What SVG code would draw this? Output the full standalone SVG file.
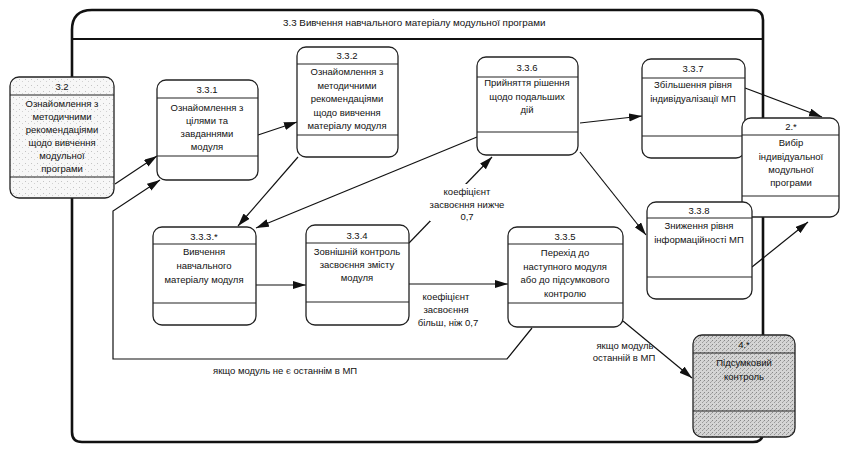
<svg xmlns="http://www.w3.org/2000/svg" width="843" height="449" viewBox="0 0 843 449">
  <style>
    text { font-family: "Liberation Sans", Arial, sans-serif; font-size: 9.5px; fill: #111; text-anchor: middle; }
    .title { font-size: 9.8px; text-anchor: start; }
    .frame { fill: none; stroke: #111; stroke-width: 2.6; }
    .box { fill: #fff; stroke: #222; stroke-width: 1.3; }
    .sep { stroke: #222; stroke-width: 1.1; }
    .conn { fill: none; stroke: #111; stroke-width: 1.2; }
    .arrow { marker-end: url(#head); }
    .lt { text-anchor: start; }
  </style>
  <defs>
    <marker id="head" markerUnits="userSpaceOnUse" markerWidth="14" markerHeight="10" refX="13" refY="4" orient="auto">
      <path d="M0,0 L13,4 L0,8 Z" fill="#111"/>
    </marker>
    <pattern id="grainLight" width="6" height="6" patternUnits="userSpaceOnUse">
      <rect width="6" height="6" fill="#f7f7f7"/>
      <rect x="1" y="1" width="1" height="1" fill="#c4c4c4"/>
      <rect x="4" y="3" width="1" height="1" fill="#d2d2d2"/>
    </pattern>
    <pattern id="grainDark" width="4" height="4" patternUnits="userSpaceOnUse">
      <rect width="4" height="4" fill="#d4d4d4"/>
      <rect x="0" y="0" width="1" height="1" fill="#888"/>
      <rect x="2" y="2" width="1" height="1" fill="#999"/>
      <rect x="3" y="1" width="1" height="1" fill="#aaa"/>
    </pattern>
  </defs>

  <rect width="843" height="449" fill="#fff"/>

  <!-- enclosing process 3.3 -->
  <g id="frame-3-3">
    <path class="frame" d="M72,30 Q72,10 92,10 L753,10 Q763,10 763,20 L763,432 Q763,442 753,442 L82,442 Q72,442 72,432 Z"/>
    <line x1="72" y1="39" x2="763" y2="39" stroke="#111" stroke-width="1.8"/>
    <text class="title" x="283" y="26">3.3 Вивчення навчального матеріалу модульної програми</text>
  </g>

  <!-- connectors -->
  <g id="connectors">
    <line class="conn arrow" x1="115" y1="184" x2="157" y2="156"/>
    <path class="conn arrow" d="M532,328 L507,359 L113,359 L113,211 L160,180"/>
    <line class="conn arrow" x1="258" y1="135" x2="297" y2="122"/>
    <line class="conn arrow" x1="298" y1="157" x2="238" y2="226"/>
    <line class="conn arrow" x1="477" y1="137" x2="256" y2="228"/>
    <line class="conn arrow" x1="256" y1="285" x2="306" y2="285"/>
    <line class="conn arrow" x1="409" y1="243" x2="492" y2="157"/>
    <line class="conn arrow" x1="409" y1="284" x2="508" y2="284"/>
    <line class="conn arrow" x1="580" y1="123" x2="642" y2="116"/>
    <line class="conn arrow" x1="580" y1="152" x2="646" y2="235"/>
    <line class="conn arrow" x1="745" y1="88" x2="822" y2="117"/>
    <line class="conn arrow" x1="752" y1="267" x2="808" y2="222"/>
    <line class="conn arrow" x1="623" y1="321" x2="692" y2="378"/>

    <!-- flow labels -->
    <rect x="430" y="184" width="74" height="37" fill="#fff"/>
    <text x="467" y="195">коефіцієнт</text>
    <text x="467" y="208">засвоєння нижче</text>
    <text x="467" y="220">0,7</text>

    <text x="446" y="300">коефіцієнт</text>
    <text x="446" y="313">засвоєння</text>
    <text x="448" y="326">більш, ніж 0,7</text>

    <text class="lt" x="213" y="374">якщо модуль не є останнім в МП</text>

    <text x="625" y="349">якщо модуль</text>
    <text x="624" y="361">останній в МП</text>
  </g>

  <!-- 3.2 -->
  <g id="node-3-2">
    <rect x="10" y="77" width="104" height="121" rx="9" fill="url(#grainLight)" stroke="#222" stroke-width="1.3"/>
    <line class="sep" x1="10" y1="95" x2="114" y2="95"/>
    <line class="sep" x1="10" y1="177" x2="114" y2="177"/>
    <text x="62" y="90">3.2</text>
    <text x="62" y="107">Ознайомлення з</text>
    <text x="62" y="120">методичними</text>
    <text x="62" y="133">рекомендаціями</text>
    <text x="62" y="146">щодо вивчення</text>
    <text x="62" y="159">модульної</text>
    <text x="62" y="172">програми</text>
  </g>

  <!-- 3.3.1 -->
  <g id="node-3-3-1">
    <rect class="box" x="157" y="80" width="101" height="100" rx="9"/>
    <line class="sep" x1="157" y1="98" x2="258" y2="98"/>
    <line class="sep" x1="157" y1="156" x2="258" y2="156"/>
    <text x="207" y="93">3.3.1</text>
    <text x="207" y="111">Ознайомлення з</text>
    <text x="207" y="124">цілями та</text>
    <text x="207" y="137">завданнями</text>
    <text x="207" y="150">модуля</text>
  </g>

  <!-- 3.3.2 -->
  <g id="node-3-3-2">
    <rect class="box" x="297" y="47" width="101" height="110" rx="9"/>
    <line class="sep" x1="297" y1="64" x2="398" y2="64"/>
    <line class="sep" x1="297" y1="135" x2="398" y2="135"/>
    <text x="347" y="59">3.3.2</text>
    <text x="347" y="75">Ознайомлення з</text>
    <text x="347" y="89">методичними</text>
    <text x="347" y="102">рекомендаціями</text>
    <text x="347" y="116">щодо вивчення</text>
    <text x="347" y="129">матеріалу модуля</text>
  </g>

  <!-- 3.3.6 -->
  <g id="node-3-3-6">
    <rect class="box" x="477" y="57" width="101" height="98" rx="9"/>
    <line class="sep" x1="477" y1="77" x2="578" y2="77"/>
    <line class="sep" x1="477" y1="132" x2="578" y2="132"/>
    <text x="527" y="71">3.3.6</text>
    <text x="527" y="86">Прийняття рішення</text>
    <text x="527" y="100">щодо подальших</text>
    <text x="527" y="113">дій</text>
  </g>

  <!-- 3.3.7 -->
  <g id="node-3-3-7">
    <rect class="box" x="642" y="59" width="103" height="99" rx="9"/>
    <line class="sep" x1="642" y1="78" x2="745" y2="78"/>
    <line class="sep" x1="642" y1="136" x2="745" y2="136"/>
    <text x="693" y="72">3.3.7</text>
    <text x="693" y="88">Збільшення рівня</text>
    <text x="693" y="102">індивідуалізації МП</text>
  </g>

  <!-- 2.* -->
  <g id="node-2">
    <rect class="box" x="742" y="118" width="97" height="99" rx="9"/>
    <line class="sep" x1="742" y1="135" x2="839" y2="135"/>
    <line class="sep" x1="742" y1="196" x2="839" y2="196"/>
    <text x="791" y="130">2.*</text>
    <text x="791" y="146">Вибір</text>
    <text x="791" y="160">індивідуальної</text>
    <text x="791" y="173">модульної</text>
    <text x="791" y="186">програми</text>
  </g>

  <!-- 3.3.3.* -->
  <g id="node-3-3-3">
    <rect class="box" x="153" y="227" width="103" height="98" rx="9"/>
    <line class="sep" x1="153" y1="244" x2="256" y2="244"/>
    <line class="sep" x1="153" y1="303" x2="256" y2="303"/>
    <text x="204" y="240">3.3.3.*</text>
    <text x="204" y="255">Вивчення</text>
    <text x="204" y="269">навчального</text>
    <text x="204" y="283">матеріалу модуля</text>
  </g>

  <!-- 3.3.4 -->
  <g id="node-3-3-4">
    <rect class="box" x="306" y="225" width="103" height="100" rx="9"/>
    <line class="sep" x1="306" y1="243" x2="409" y2="243"/>
    <line class="sep" x1="306" y1="302" x2="409" y2="302"/>
    <text x="357" y="239">3.3.4</text>
    <text x="357" y="255">Зовнішній контроль</text>
    <text x="357" y="268">засвоєння змісту</text>
    <text x="357" y="281">модуля</text>
  </g>

  <!-- 3.3.5 -->
  <g id="node-3-3-5">
    <rect class="box" x="508" y="227" width="115" height="100" rx="9"/>
    <line class="sep" x1="508" y1="244" x2="623" y2="244"/>
    <line class="sep" x1="508" y1="303" x2="623" y2="303"/>
    <text x="565" y="240">3.3.5</text>
    <text x="565" y="256">Перехід до</text>
    <text x="565" y="270">наступного модуля</text>
    <text x="565" y="283">або до підсумкового</text>
    <text x="565" y="297">контролю</text>
  </g>

  <!-- 3.3.8 -->
  <g id="node-3-3-8">
    <rect class="box" x="647" y="202" width="105" height="97" rx="9"/>
    <line class="sep" x1="647" y1="218" x2="752" y2="218"/>
    <line class="sep" x1="647" y1="277" x2="752" y2="277"/>
    <text x="699" y="214">3.3.8</text>
    <text x="699" y="229">Зниження рівня</text>
    <text x="699" y="243">інформаційності МП</text>
  </g>

  <!-- 4.* -->
  <g id="node-4">
    <rect x="693" y="335" width="102" height="102" rx="9" fill="url(#grainDark)" stroke="#222" stroke-width="1.3"/>
    <line class="sep" x1="693" y1="353" x2="795" y2="353"/>
    <line class="sep" x1="693" y1="411" x2="795" y2="411"/>
    <text x="744" y="348">4.*</text>
    <text x="744" y="366">Підсумковий</text>
    <text x="744" y="380">контроль</text>
  </g>
</svg>
